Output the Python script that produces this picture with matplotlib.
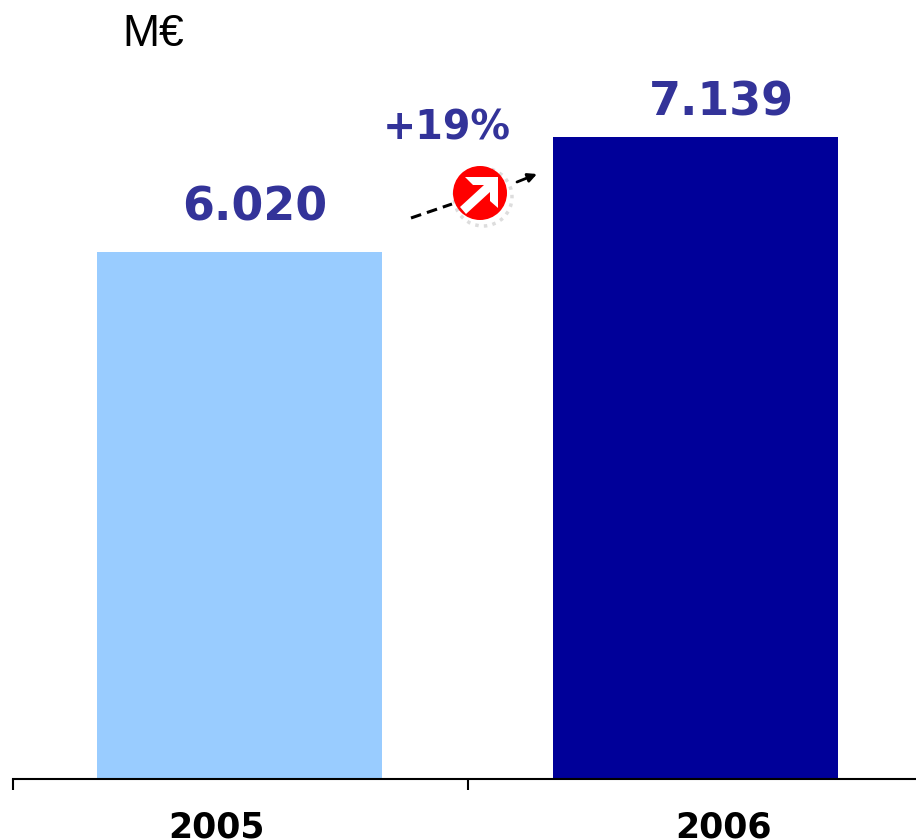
import matplotlib
matplotlib.use("Agg")
from matplotlib import pyplot as plt
from matplotlib.patches import Circle, Polygon

# valori
years = ["2005", "2006"]
values = [6020, 7139]
value_labels = ["6.020", "7.139"]
bar_colors = ["#99CCFF", "#000099"]
growth_label = "+19%"
unit_label = "M€"
y_min = 892  # l'asse non parte da zero: le barre hanno 527 e 642 px

W, H = 916, 840
plt.rcParams['font.family'] = ['Liberation Sans', 'DejaVu Sans']
fig = plt.figure(figsize=(W / 100, H / 100), dpi=100)

# base a 779 px, 7139 a 137 px, una categoria larga 455 px
base_px = 779
scale = (779 - 137) / (values[1] - y_min)
ax = fig.add_axes([13 / W, (H - base_px) / H, (W - 13) / W, base_px / H])
ax.set_xlim(0, (W - 13) / 455)
ax.set_ylim(y_min, y_min + base_px / scale)
ax.patch.set_alpha(0)

x = [(239.5 - 13) / 455, (695.5 - 13) / 455]
ax.bar(x, values, width=285 / 455, color=bar_colors)

ax.spines[['top', 'right', 'left']].set_visible(False)
ax.spines['bottom'].set_linewidth(1.5)
ax.set_yticks([])
ax.set_xticks([0, 1])
ax.set_xticklabels([])
ax.tick_params(axis='x', length=8, width=1.5, direction='out')
# etichette: nell'originale non sono centrate sulle barre
ax.set_xticks([(216 - 13) / 455, (724 - 13) / 455], minor=True)
ax.set_xticklabels(years, minor=True, fontsize=25, fontweight="bold", family=['DejaVu Sans'])
ax.tick_params(axis='x', which='minor', length=0, pad=23)

# overlay in pixel
ov = fig.add_axes([0, 0, 1, 1])
ov.set_xlim(0, W)
ov.set_ylim(H, 0)
ov.axis('off')
ov.text(122, 35, unit_label, fontsize=32, va="center", ha="left", color="black")
for cx, cy, lab in zip([255, 721], [208, 103], value_labels):
    ov.text(cx, cy, lab, ha="center", va="center", fontsize=33, fontweight="bold", color="#333399", family=['DejaVu Sans'])
ov.text(447, 128, growth_label, fontsize=28.5, fontweight="bold", va="center", ha="center", color="#333399", family=['DejaVu Sans'])
ov.plot([411, 452], [218, 204], color="black", lw=2.2, ls=(0, (3.5, 2)))
ov.annotate("", xy=(537, 174), xytext=(517, 182), arrowprops=dict(arrowstyle="-|>", color="black", lw=2, mutation_scale=13, shrinkA=0, shrinkB=0))
ov.add_patch(Circle((483, 197), 29, fill=False, edgecolor="#DDDDDD", lw=2.5, ls=(0, (1, 1.5)), zorder=2))
ov.add_patch(Circle((480, 193), 27, facecolor="#FF0000", edgecolor="none", zorder=3))
ov.add_patch(Polygon([(465, 177), (498, 177), (498, 208), (490, 201), (490, 192), (466, 214), (460, 207), (484, 185), (473, 185)], closed=True, facecolor="white", edgecolor="none", zorder=4))

fig.savefig("out.png", dpi=100)
